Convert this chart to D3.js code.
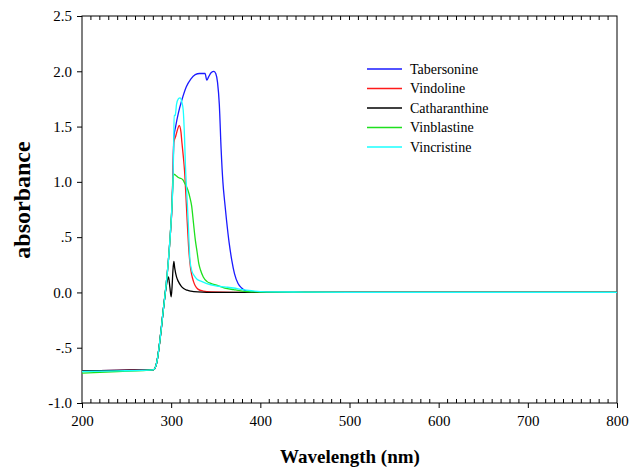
<!DOCTYPE html>
<html>
<head>
<script src="https://d3js.org/d3.v7.min.js"></script>
<style>
  body { margin: 0; background: white; }
  text { font-family: "Liberation Serif", "Times New Roman", serif; }
</style>
</head>
<body>
<svg class="target"></svg>
<script>

// data: [wavelength nm, absorbance]
tabersonine = [[200,-0.71],[240,-0.705],[280,-0.70],[283,-0.66],[285,-0.58],[287,-0.46],[289,-0.32],[291,-0.17],[293,-0.03],[295,0.12],[297,0.30],[299,0.52],[301,0.80],[302,1.05],[303,1.40],[305,1.50],[308,1.62],[312,1.74],[317,1.86],[322,1.93],[327,1.97],[332,1.98],[338,1.98],[340,1.92],[342,1.95],[345,1.99],[348,2.00],[350,1.98],[352,1.90],[354,1.70],[356,1.30],[358,1.00],[360,0.82],[362,0.66],[365,0.45],[368,0.29],[371,0.17],[375,0.08],[379,0.04],[383,0.016],[390,0.005],[420,0.0],[800,0.0]]

vindoline = [[200,-0.71],[240,-0.705],[280,-0.70],[283,-0.66],[285,-0.58],[287,-0.46],[289,-0.32],[291,-0.17],[293,-0.03],[295,0.12],[297,0.30],[299,0.52],[301,0.80],[302,1.10],[303,1.36],[305,1.41],[307,1.47],[309,1.51],[311,1.45],[312,1.36],[313.5,1.24],[315,1.10],[316.5,0.88],[318,0.64],[319.5,0.42],[321,0.27],[323,0.16],[325,0.10],[327,0.06],[330,0.03],[336,0.012],[345,0.004],[370,0.0],[800,0.0]]

catharanthine = [[200,-0.71],[240,-0.705],[280,-0.70],[283,-0.66],[285,-0.58],[287,-0.46],[289,-0.32],[291,-0.17],[293,-0.03],[295,0.08],[297,0.14],[298.5,0.05],[300,-0.04],[301,0.05],[302,0.20],[303,0.28],[304,0.22],[306,0.14],[308,0.10],[311,0.06],[314,0.035],[318,0.02],[322,0.012],[330,0.005],[350,0.0],[800,0.0]]

vinblastine = [[200,-0.73],[240,-0.715],[280,-0.70],[283,-0.66],[285,-0.58],[287,-0.46],[289,-0.32],[291,-0.17],[293,-0.03],[295,0.12],[297,0.30],[299,0.52],[300,0.66],[301,0.80],[302,1.00],[303,1.07],[305,1.06],[308,1.04],[311,1.03],[313,1.02],[315,0.99],[317,0.96],[319,0.92],[321,0.86],[323,0.78],[325,0.63],[327,0.48],[329,0.37],[331,0.26],[333,0.20],[336,0.14],[340,0.10],[345,0.08],[351,0.065],[360,0.04],[370,0.025],[380,0.012],[390,0.006],[420,0.002],[500,0.0],[800,0.0]]

vincristine = [[200,-0.715],[240,-0.71],[280,-0.70],[283,-0.66],[285,-0.58],[287,-0.46],[289,-0.32],[291,-0.17],[293,-0.03],[295,0.12],[297,0.30],[299,0.52],[301,0.80],[302,1.00],[302.8,1.30],[303.3,1.60],[304.5,1.60],[306,1.70],[308,1.75],[310,1.76],[312,1.72],[313.5,1.65],[315,1.40],[316,1.15],[317.5,0.90],[319,0.66],[321,0.30],[323,0.20],[326,0.15],[329,0.12],[334,0.10],[340,0.08],[350,0.06],[360,0.05],[370,0.04],[380,0.025],[390,0.015],[400,0.008],[450,0.003],[500,0.0],[800,0.0]]

seriesNames = ['Tabersonine', 'Vindoline', 'Catharanthine', 'Vinblastine', 'Vincristine']
seriesData = [tabersonine, vindoline, catharanthine, vinblastine, vincristine]
seriesColors = ['#1a1aff', '#ff1a1a', '#000000', '#1ee01e', '#1affff']

xTicks = [200, 300, 400, 500, 600, 700, 800]
yTicks = [2.5, 2.0, 1.5, 1.0, 0.5, 0.0, -0.5, -1.0]
yTickLabels = ['2.5', '2.0', '1.5', '1.0', '.5', '0.0', '-.5', '-1.0']

serif = '"Liberation Serif", "Times New Roman", serif'

width = 629
height = 467

svg = d3.select('.target')
      .attr('width', width)
      .attr('height', height)

x = d3.scaleLinear().domain([200, 800]).range([82, 617])
y = d3.scaleLinear().domain([-1, 2.5]).range([403, 16])

minor = d3.range(200, 801, 10)

// frame
svg.append('rect')
  .attr('x', x(200)).attr('y', y(2.5))
  .attr('width', x(800) - x(200)).attr('height', y(-1) - y(2.5))
  .attr('fill', 'none').attr('stroke', '#000').attr('stroke-width', 1)

// bottom axis: majors outward, minors inward
svg.append('g')
  .attr('transform', `translate(0,${y(-1)})`)
  .call(d3.axisBottom(x).tickValues(xTicks).tickSize(5).tickPadding(7).tickFormat(d3.format('d')))
  .call(g => g.select('.domain').remove())
  .call(g => g.attr('font-family', serif).attr('font-size', 15))
  .call(g => g.selectAll('text').attr('fill', '#000'))

svg.append('g')
  .selectAll('line')
  .data(minor.filter(d => d % 100 != 0))
  .join('line')
    .attr('x1', d => x(d)).attr('x2', d => x(d))
    .attr('y1', y(-1)).attr('y2', y(-1) - 4)
    .attr('stroke', '#000')

// top minor ticks pointing down
svg.append('g')
  .selectAll('line')
  .data(minor.filter(d => d > 200 && d < 800))
  .join('line')
    .attr('x1', d => x(d)).attr('x2', d => x(d))
    .attr('y1', y(2.5)).attr('y2', y(2.5) + 4)
    .attr('stroke', '#000')

// left axis
svg.append('g')
  .attr('transform', `translate(${x(200)},0)`)
  .call(d3.axisLeft(y).tickValues(yTicks).tickSize(5).tickPadding(5)
        .tickFormat((d, i) => yTickLabels[i]))
  .call(g => g.select('.domain').remove())
  .call(g => g.attr('font-family', serif).attr('font-size', 15))
  .call(g => g.selectAll('text').attr('fill', '#000'))

// curves
line = d3.line()
  .x(d => x(d[0]))
  .y(d => y(d[1]))
  .curve(d3.curveMonotoneX)

svg.append('g')
  .selectAll('path')
  .data(seriesData)
  .join('path')
    .attr('d', d => line(d))
    .attr('fill', 'none')
    .attr('stroke', (d, i) => seriesColors[i])
    .attr('stroke-width', 1.3)

// legend
legend = svg.append('g')
  .selectAll('g')
  .data(seriesNames)
  .join('g')
    .attr('transform', (d, i) => `translate(367,${69 + i * 19.5})`)

legend.append('line')
  .attr('x1', 0).attr('x2', 35)
  .attr('stroke', (d, i) => seriesColors[i])
  .attr('stroke-width', 1.3)

legend.append('text')
  .attr('x', 43).attr('dy', '0.35em')
  .attr('font-size', 14)
  .text(d => d)

// axis titles
svg.append('text')
  .attr('x', 350).attr('y', 463)
  .attr('text-anchor', 'middle')
  .attr('font-size', 19).attr('font-weight', 'bold')
  .text('Wavelength (nm)')

svg.append('text')
  .attr('transform', 'translate(30,200) rotate(-90)')
  .attr('text-anchor', 'middle')
  .attr('font-size', 24).attr('font-weight', 'bold')
  .text('absorbance')

</script>
</body>
</html>
